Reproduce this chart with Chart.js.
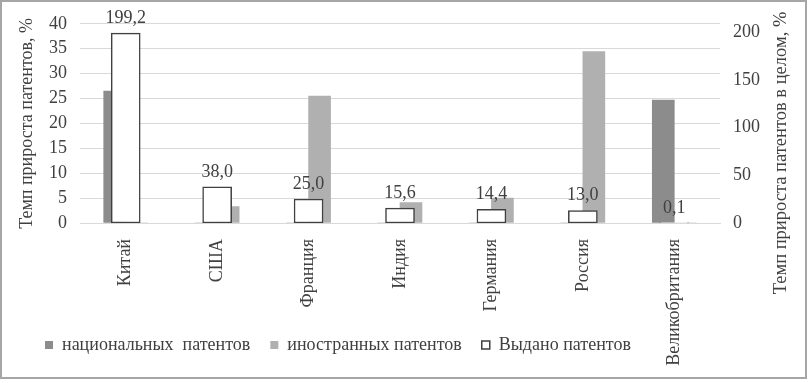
<!DOCTYPE html>
<html>
<head>
<meta charset="utf-8">
<script src="https://cdn.jsdelivr.net/npm/chart.js@4.4.1/dist/chart.umd.min.js"></script>
<style>
    body { margin: 0; background: #ffffff; }
    #patentChart { position: absolute; left: 0; top: 0; }
    .fontwarm { position: absolute; left: 20px; top: 20px; font-family: "Liberation Serif"; font-size: 18px; color: #ffffff; }
</style>
</head>
<body>
<div class="fontwarm">Темп прироста патентов 0123456789,%</div>
<canvas id="patentChart" width="810" height="383"></canvas>
<script>
const countries = ['Китай', 'США', 'Франция', 'Индия', 'Германия', 'Россия', 'Великобритания'];
const nationalGrowth = [26.5, 0, 0, 0, 0, 0, 24.7];
const foreignGrowth = [0, 3.3, 25.5, 4.1, 5.0, 34.4, 0];
const issuedGrowth = [199.2, 38.0, 25.0, 15.6, 14.4, 13.0, 0.1];
const rightTicks = [0, 50, 100, 150, 200];

const fontName = '"Liberation Serif"';
const fontSize = 18;
const textColor = '#404040';
const gridColor = '#d9d9d9';
const padBottom = 19;

// frame around the whole picture
const framePlugin = {
    id: 'frame',
    beforeDraw(chart) {
        const ctx = chart.ctx;
        ctx.save();
        ctx.fillStyle = '#ffffff';
        ctx.fillRect(0, 0, chart.width, chart.height);
        ctx.strokeStyle = '#a6a6a6';
        ctx.lineWidth = 2;
        ctx.strokeRect(1, 1, 805, 377);
        ctx.restore();
    }
};

// labels above the white bars, decimal comma
const valueLabels = {
    id: 'valueLabels',
    afterDatasetsDraw(chart) {
        const ctx = chart.ctx;
        const meta = chart.getDatasetMeta(2);
        ctx.save();
        ctx.font = fontSize + 'px ' + fontName;
        ctx.fillStyle = textColor;
        ctx.textAlign = 'center';
        ctx.textBaseline = 'bottom';
        meta.data.forEach((bar, i) => {
            ctx.fillText(issuedGrowth[i].toFixed(1).replace('.', ','), bar.x, bar.y - 6);
        });
        ctx.restore();
    }
};

// right axis title sits lower than the axis centre
const rightTitle = {
    id: 'rightTitle',
    afterDraw(chart) {
        const ctx = chart.ctx;
        ctx.save();
        ctx.translate(781, 153);
        ctx.rotate(-Math.PI / 2);
        ctx.font = '18.5px ' + fontName;
        ctx.fillStyle = textColor;
        ctx.textAlign = 'center';
        ctx.textBaseline = 'middle';
        ctx.fillText('Темп прироста патентов в целом, %', 0, 0);
        ctx.restore();
    }
};

// legend moved to the left, x labels allowed to run past the legend row
const layoutTweaks = {
    id: 'layoutTweaks',
    afterLayout(chart) {
        chart.legend.left = 25;
        chart.scales.x.bottom = chart.height;
    }
};

Chart.defaults.font.family = fontName;
Chart.defaults.font.size = fontSize;

function drawChart() {
    const ctx = document.getElementById('patentChart').getContext('2d');
    new Chart(ctx, {
        type: 'bar',
        data: {
            labels: countries,
            datasets: [
                {
                    label: 'национальных  патентов',
                    data: nationalGrowth,
                    backgroundColor: '#8c8c8c',
                    borderWidth: 0,
                    barThickness: 22,
                    yAxisID: 'y',
                    order: 1
                },
                {
                    label: 'иностранных патентов',
                    data: foreignGrowth,
                    backgroundColor: '#b0b0b0',
                    borderWidth: 0,
                    barThickness: 22,
                    yAxisID: 'y',
                    order: 1
                },
                {
                    label: 'Выдано патентов',
                    data: issuedGrowth,
                    backgroundColor: '#ffffff',
                    borderColor: '#404040',
                    borderWidth: 1.5,
                    borderSkipped: false,
                    barThickness: 29,
                    grouped: false,
                    yAxisID: 'y1',
                    order: 0
                }
            ]
        },
        options: {
            responsive: false,
            animation: false,
            layout: {
                padding: { left: 10, right: 6, top: 16, bottom: padBottom }
            },
            plugins: {
                tooltip: { enabled: false },
                legend: {
                    position: 'bottom',
                    align: 'start',
                    labels: {
                        color: textColor,
                        boxWidth: 8,
                        boxHeight: 8,
                        padding: 20,
                        sort: (a, b) => a.datasetIndex - b.datasetIndex
                    }
                }
            },
            scales: {
                x: {
                    offset: true,
                    grid: { display: false },
                    border: { color: gridColor },
                    ticks: {
                        color: textColor,
                        minRotation: 90,
                        maxRotation: 90,
                        autoSkip: false,
                        padding: 8
                    },
                    afterFit(scale) {
                        scale.height = 383 - 223 - scale.chart.legend.height - padBottom;
                    }
                },
                y: {
                    position: 'left',
                    min: 0,
                    max: 40,
                    grid: { color: gridColor, drawTicks: false },
                    border: { display: false },
                    ticks: {
                        stepSize: 5,
                        color: textColor,
                        padding: 13
                    },
                    title: {
                        display: true,
                        text: 'Темп прироста патентов, %',
                        color: textColor,
                        padding: { top: 6, bottom: 0 }
                    },
                    afterFit(scale) {
                        scale.width = 70;
                    }
                },
                y1: {
                    position: 'right',
                    min: 0,
                    max: 209,
                    grid: { display: false, drawTicks: false },
                    border: { display: false },
                    ticks: {
                        color: textColor,
                        padding: 13
                    },
                    afterBuildTicks(scale) {
                        scale.ticks = rightTicks.map(v => ({ value: v }));
                    },
                    afterFit(scale) {
                        scale.width = 84;
                    }
                }
            }
        },
        plugins: [framePlugin, valueLabels, rightTitle, layoutTweaks]
    });
}

window.addEventListener('load', () => {
    document.fonts.ready.then(drawChart);
});
</script>
</body>
</html>
